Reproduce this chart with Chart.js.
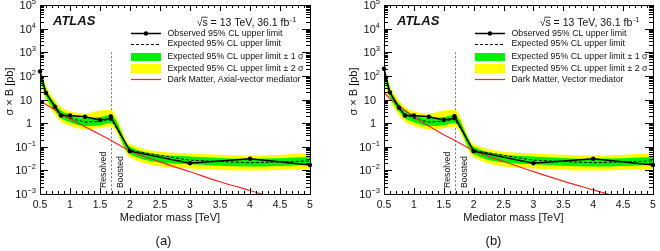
<!DOCTYPE html>
<html>
<head>
<meta charset="utf-8">
<script src="https://cdn.jsdelivr.net/npm/chart.js@4.4.1/dist/chart.umd.min.js"></script>
<style>
  body { margin: 0; background: #fff; width: 660px; height: 251px; overflow: hidden; }
  .panel { position: absolute; top: 0; width: 330px; height: 251px; }
</style>
</head>
<body>
<div class="panel" style="left:0"><canvas id="chart-a" width="330" height="251"></canvas></div>
<div class="panel" style="left:330px"><canvas id="chart-b" width="330" height="251"></canvas></div>
<script>
// Mass points [TeV]
const obsMass = [0.5, 0.6, 0.75, 0.85, 1.0, 1.25, 1.5, 1.68, 1.68, 2.0, 3.0, 4.0, 5.0];
const bandMass = [0.5, 0.6, 0.75, 0.85, 1.0, 1.25, 1.5, 1.68, 2.0, 3.0, 4.0, 5.0];
const theoryMass = [0.5, 0.6, 0.75, 0.85, 1.0, 1.25, 1.5, 1.68, 2.0, 2.5, 3.0, 3.5, 4.0, 4.5, 5.0];

// (a) Axial-vector mediator, sigma x B [pb]
const observedA = [155, 19, 5.0, 2.1, 2.1, 1.85, 1.35, 1.55, 1.9, 0.065, 0.020, 0.031, 0.017];
const expectedA = [110, 19, 4.8, 2.4, 1.6, 1.1, 1.2, 1.5, 0.07, 0.027, 0.021, 0.025];
const oneUpA    = [160, 27, 6.8, 3.4, 2.3, 1.6, 1.8, 2.2, 0.10, 0.039, 0.031, 0.037];
const oneDownA  = [75, 13, 3.3, 1.65, 1.1, 0.76, 0.82, 1.02, 0.048, 0.018, 0.0145, 0.017];
const twoUpA    = [230, 38, 9.5, 4.8, 3.2, 2.5, 3.4, 3.6, 0.13, 0.052, 0.043, 0.052];
const twoDownA  = [50, 9, 2.3, 1.15, 0.78, 0.55, 0.6, 0.72, 0.036, 0.012, 0.0098, 0.0112];
const theoryA   = [9, 6.2, 3.6, 2.4, 1.5, 0.7, 0.33, 0.19, 0.066, 0.023, 0.0087, 0.0033, 0.0014, 0.0006, 0.00027];

// (b) Vector mediator
const observedB = [200, 20, 4.5, 2.1, 2.1, 1.85, 1.35, 1.6, 1.95, 0.065, 0.020, 0.031, 0.017];
const expectedB = [120, 19, 4.6, 2.4, 1.6, 1.1, 1.2, 1.5, 0.07, 0.027, 0.021, 0.025];
const oneUpB    = [170, 27, 6.6, 3.4, 2.3, 1.6, 1.8, 2.2, 0.10, 0.039, 0.031, 0.037];
const oneDownB  = [80, 13, 3.2, 1.65, 1.1, 0.76, 0.82, 1.02, 0.048, 0.018, 0.0145, 0.017];
const twoUpB    = [250, 38, 9.2, 4.8, 3.2, 2.5, 3.4, 3.6, 0.13, 0.052, 0.043, 0.052];
const twoDownB  = [55, 9, 2.2, 1.15, 0.78, 0.55, 0.6, 0.72, 0.036, 0.012, 0.0098, 0.0112];
const theoryB   = [20, 11, 5.5, 3.5, 1.9, 0.75, 0.32, 0.19, 0.068, 0.024, 0.0088, 0.0035, 0.0015, 0.00065, 0.0003];

// Axes
const xTicks = [0.5, 1, 1.5, 2, 2.5, 3, 3.5, 4, 4.5, 5];
const xTickLabels = ['0.5', '1', '1.5', '2', '2.5', '3', '3.5', '4', '4.5', '5'];
const yTickExps = [-3, -2, -1, 0, 1, 2, 3, 4, 5];
const boundaryMass = 1.68;

const legendLabels = [
    'Observed 95% CL upper limit',
    'Expected 95% CL upper limit',
    'Expected 95% CL upper limit \u00b1 1 \u03c3',
    'Expected 95% CL upper limit \u00b1 2 \u03c3'
];

const FONT = '"Liberation Sans", Arial, Helvetica, sans-serif';
const GREEN = '#00f000';
const YELLOW = '#ffff00';
const RED = '#ee2a24';
const INK = '#111';

function pts(xs, ys) {
    return xs.map((x, i) => ({ x: x, y: ys[i] }));
}

// Frame, inside ticks, labels, legend and ATLAS texts
const atlasDecor = {
    id: 'atlasDecor',
    beforeDatasetsDraw(chart) {
        const ctx = chart.ctx;
        const xs = chart.scales.x, ys = chart.scales.y;
        const x = Math.round(xs.getPixelForValue(boundaryMass)) + 0.5;
        ctx.save();
        ctx.strokeStyle = '#777';
        ctx.lineWidth = 1;
        ctx.setLineDash([2, 2]);
        ctx.beginPath();
        ctx.moveTo(x, ys.getPixelForValue(1e3));
        ctx.lineTo(x, chart.chartArea.bottom);
        ctx.stroke();
        ctx.restore();
    },
    afterDatasetsDraw(chart, args, opts) {
        const ctx = chart.ctx;
        const { left, right, top, bottom } = chart.chartArea;
        const xs = chart.scales.x, ys = chart.scales.y;
        ctx.save();

        // frame and ticks
        ctx.strokeStyle = '#000';
        ctx.lineWidth = 1;
        ctx.beginPath();
        yTickExps.forEach(e => {
            const y = Math.round(ys.getPixelForValue(Math.pow(10, e))) + 0.5;
            ctx.moveTo(left, y); ctx.lineTo(left + 8, y);
            ctx.moveTo(right, y); ctx.lineTo(right - 8, y);
            if (e < 5) {
                for (let k = 2; k <= 9; k++) {
                    const yy = Math.round(ys.getPixelForValue(k * Math.pow(10, e))) + 0.5;
                    ctx.moveTo(left, yy); ctx.lineTo(left + 4, yy);
                    ctx.moveTo(right, yy); ctx.lineTo(right - 4, yy);
                }
            }
        });
        for (let i = 0; i <= 45; i++) {
            const x = Math.round(xs.getPixelForValue(0.5 + i * 0.1)) + 0.5;
            const len = i % 5 === 0 ? 6 : 3;
            ctx.moveTo(x, bottom); ctx.lineTo(x, bottom - len);
            ctx.moveTo(x, top); ctx.lineTo(x, top + len);
        }
        ctx.stroke();
        ctx.strokeRect(Math.round(left) + 0.5, Math.round(top) + 0.5,
            Math.round(right - left), Math.round(bottom - top));

        ctx.fillStyle = INK;

        // x tick labels
        ctx.font = '10.5px ' + FONT;
        ctx.textAlign = 'center';
        ctx.textBaseline = 'alphabetic';
        xTicks.forEach((v, i) => {
            ctx.fillText(xTickLabels[i], xs.getPixelForValue(v), bottom + 13.5);
        });

        // y tick labels
        yTickExps.forEach(e => {
            const y = ys.getPixelForValue(Math.pow(10, e));
            ctx.textAlign = 'right';
            if (e === 0 || e === 1) {
                ctx.font = '11px ' + FONT;
                ctx.fillText(e === 0 ? '1' : '10', left - 8, y + 4);
            } else {
                const sup = e < 0 ? '\u2212' + (-e) : String(e);
                ctx.font = '7.5px ' + FONT;
                const w = ctx.measureText(sup).width;
                ctx.fillText(sup, left - 4, y - 1);
                ctx.font = '11px ' + FONT;
                ctx.fillText('10', left - 4 - w, y + 4);
            }
        });

        // axis titles
        ctx.font = '11px ' + FONT;
        ctx.textAlign = 'center';
        ctx.fillText('Mediator mass [TeV]', (left + right) / 2 - 5, bottom + 27);
        ctx.save();
        ctx.translate(left - 30, (top + bottom) / 2 - 8);
        ctx.rotate(-Math.PI / 2);
        ctx.textBaseline = 'middle';
        ctx.fillText('\u03c3 \u00d7 B [pb]', 0, 0);
        ctx.restore();

        // panel label
        ctx.font = '13px ' + FONT;
        ctx.fillText(opts.panelLabel, 163.5, 245);

        // Resolved / Boosted
        const bx = xs.getPixelForValue(boundaryMass);
        ctx.font = '8.7px ' + FONT;
        ctx.textAlign = 'left';
        ctx.textBaseline = 'alphabetic';
        ctx.save();
        ctx.translate(bx - 5, bottom - 6);
        ctx.rotate(-Math.PI / 2);
        ctx.fillText('Resolved', 0, 0);
        ctx.restore();
        ctx.save();
        ctx.translate(bx + 12, bottom - 6);
        ctx.rotate(-Math.PI / 2);
        ctx.fillText('Boosted', 0, 0);
        ctx.restore();

        // ATLAS
        ctx.font = 'italic bold 13px ' + FONT;
        ctx.fillText('ATLAS', left + 13, top + 20);

        // sqrt(s) label
        ctx.font = '10.5px ' + FONT;
        const main = '\u221as = 13 TeV, 36.1 fb';
        const wMain = ctx.measureText(main).width;
        const wRoot = ctx.measureText('\u221a').width;
        const wS = ctx.measureText('s').width;
        ctx.font = '7.5px ' + FONT;
        const wSup = ctx.measureText('-1').width;
        const x0 = right - 14 - wMain - wSup;
        const base = top + 21;
        ctx.font = '10.5px ' + FONT;
        ctx.fillText(main, x0, base);
        ctx.font = '7.5px ' + FONT;
        ctx.fillText('-1', x0 + wMain + 0.5, base - 4.5);
        ctx.strokeStyle = INK;
        ctx.lineWidth = 0.8;
        ctx.beginPath();
        ctx.moveTo(x0 + wRoot - 1, base - 8.8);
        ctx.lineTo(x0 + wRoot + wS, base - 8.8);
        ctx.stroke();

        // legend
        const sx0 = left + 91, sx1 = left + 121, tx = left + 127.5;
        const rows = [top + 28.5, top + 39, top + 52, top + 63.5, top + 74.5];
        ctx.fillStyle = YELLOW;
        ctx.fillRect(sx0, rows[3] - 4.5, sx1 - sx0, 9);
        ctx.fillStyle = GREEN;
        ctx.fillRect(sx0, rows[2] - 4, sx1 - sx0, 8);
        ctx.strokeStyle = '#000';
        ctx.lineWidth = 1.5;
        ctx.beginPath();
        ctx.moveTo(sx0, rows[0]); ctx.lineTo(sx1, rows[0]);
        ctx.stroke();
        ctx.fillStyle = '#000';
        ctx.beginPath();
        ctx.arc((sx0 + sx1) / 2, rows[0], 2.2, 0, Math.PI * 2);
        ctx.fill();
        ctx.lineWidth = 1;
        ctx.setLineDash([3, 2]);
        ctx.beginPath();
        ctx.moveTo(sx0, rows[1] + 0.5); ctx.lineTo(sx1, rows[1] + 0.5);
        ctx.stroke();
        ctx.setLineDash([]);
        ctx.strokeStyle = RED;
        ctx.lineWidth = 1.2;
        ctx.beginPath();
        ctx.moveTo(sx0, rows[4]); ctx.lineTo(sx1, rows[4]);
        ctx.stroke();

        ctx.fillStyle = INK;
        ctx.font = '8.8px ' + FONT;
        ctx.textBaseline = 'middle';
        const labels = legendLabels.concat([opts.theoryLabel]);
        labels.forEach((t, i) => ctx.fillText(t, tx, rows[i]));

        ctx.restore();
    }
};

function makePanel(id, d) {
    const band = { pointRadius: 0, borderColor: 'rgba(0,0,0,0)', borderWidth: 1, cubicInterpolationMode: 'monotone' };
    return new Chart(document.getElementById(id), {
        type: 'line',
        data: {
            datasets: [
                Object.assign({ label: '2s up', data: pts(bandMass, d.twoUp), fill: '+1', backgroundColor: YELLOW, order: 10 }, band),
                Object.assign({ label: '2s down', data: pts(bandMass, d.twoDown), fill: false, order: 9 }, band),
                Object.assign({ label: '1s up', data: pts(bandMass, d.oneUp), fill: '+1', backgroundColor: GREEN, order: 8 }, band),
                Object.assign({ label: '1s down', data: pts(bandMass, d.oneDown), fill: false, order: 7 }, band),
                {
                    label: 'Expected', data: pts(bandMass, d.expected), order: 5,
                    borderColor: '#000', borderWidth: 1, borderDash: [3, 2], pointRadius: 0, fill: false
                },
                {
                    label: 'Theory', data: pts(theoryMass, d.theory), order: 4,
                    borderColor: RED, borderWidth: 1.2, pointRadius: 0, fill: false,
                    cubicInterpolationMode: 'monotone'
                },
                {
                    label: 'Observed', data: pts(obsMass, d.observed), order: 1,
                    borderColor: '#000', borderWidth: 1.5, pointRadius: 2.2,
                    pointBackgroundColor: '#000', pointBorderWidth: 0, fill: false, clip: 5
                }
            ]
        },
        options: {
            responsive: false,
            animation: false,
            events: [],
            layout: { autoPadding: false, padding: d.padding },
            scales: {
                x: { type: 'linear', min: 0.5, max: 5, display: false },
                y: { type: 'logarithmic', min: 1e-3, max: 1e5, display: false }
            },
            plugins: {
                legend: { display: false },
                tooltip: { enabled: false },
                atlasDecor: { panelLabel: d.panelLabel, theoryLabel: d.theoryLabel }
            }
        },
        plugins: [atlasDecor]
    });
}

makePanel('chart-a', {
    observed: observedA, expected: expectedA, oneUp: oneUpA, oneDown: oneDownA,
    twoUp: twoUpA, twoDown: twoDownA, theory: theoryA,
    panelLabel: '(a)', theoryLabel: 'Dark Matter, Axial-vector mediator',
    padding: { left: 40, right: 20, top: 5, bottom: 57 }
});
makePanel('chart-b', {
    observed: observedB, expected: expectedB, oneUp: oneUpB, oneDown: oneDownB,
    twoUp: twoUpB, twoDown: twoDownB, theory: theoryB,
    panelLabel: '(b)', theoryLabel: 'Dark Matter, Vector mediator',
    padding: { left: 54, right: 7, top: 5, bottom: 57 }
});
</script>
</body>
</html>
